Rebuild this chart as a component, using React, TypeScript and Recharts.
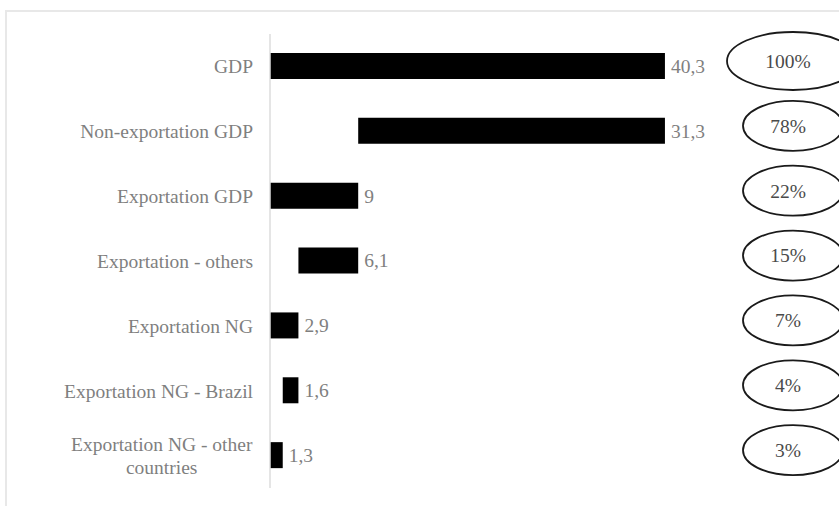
import { BarChart, Bar, XAxis, YAxis, LabelList } from 'recharts'

const categories = [
  'GDP',
  'Non-exportation GDP',
  'Exportation GDP',
  'Exportation - others',
  'Exportation NG',
  'Exportation NG - Brazil',
  'Exportation NG - other countries',
]
// where each bar starts (waterfall offset) and its length
const offsets = [0, 9, 0, 2.9, 0, 1.3, 0]
const amounts = [40.3, 31.3, 9, 6.1, 2.9, 1.6, 1.3]
const shares = ['100%', '78%', '22%', '15%', '7%', '4%', '3%']

const data = categories.map((name, i) => ({
  name,
  base: offsets[i],
  value: amounts[i],
  share: shares[i],
}))

const FONT = '"Liberation Serif", "Times New Roman", serif'
const W = 839
const H = 506

function wrap(label: string, max = 23): string[] {
  const lines: string[] = []
  let cur = ''
  for (const w of label.split(' ')) {
    const next = cur ? cur + ' ' + w : w
    if (next.length > max && cur) {
      lines.push(cur)
      cur = w
    } else {
      cur = next
    }
  }
  if (cur) lines.push(cur)
  return lines
}

function CategoryTick(props: any) {
  const { x, y, payload } = props
  const lines = wrap(String(payload.value))
  const lh = 23
  const top = y - ((lines.length - 1) * lh) / 2
  const right = x - 9
  // multi-line labels are centred as a block that ends at the same right edge
  const longest = Math.max(...lines.map((l) => l.length))
  const multi = lines.length > 1
  return (
    <g>
      {lines.map((ln, i) => (
        <text
          key={i}
          x={multi ? right - (longest * 8.3) / 2 : right}
          y={top + i * lh}
          dy="0.35em"
          textAnchor={multi ? 'middle' : 'end'}
          fill="#7f7f7f"
          fontSize={19.5}
          fontFamily={FONT}
        >
          {ln}
        </text>
      ))}
    </g>
  )
}

// percentage bubbles in a column at the right, one per row
function ShareBubble(props: any) {
  const { y, height, index } = props
  const cy = y + height / 2 - 5
  const cx = 793
  const first = index === 0
  return (
    <g>
      <ellipse
        cx={cx}
        cy={cy}
        rx={first ? 66 : 50}
        ry={first ? 29 : 25}
        fill="#fff"
        stroke="#1a1a1a"
        strokeWidth={1.8}
      />
      <text
        x={cx - 5}
        y={cy}
        dy="0.35em"
        textAnchor="middle"
        fill="#4a4a4a"
        fontSize={19.5}
        fontFamily={FONT}
      >
        {shares[index]}
      </text>
    </g>
  )
}

export default function App() {
  return (
    <div style={{ position: 'absolute', left: 0, top: 0, width: W, height: H, background: '#fff' }}>
      <div
        style={{
          position: 'absolute',
          left: 5,
          top: 10,
          right: 0,
          bottom: 0,
          borderTop: '2px solid #e8e8e8',
          borderLeft: '2px solid #e8e8e8',
        }}
      />
      <div style={{ position: 'absolute', left: 0, top: 0 }}>
        <BarChart
          width={W}
          height={H}
          data={data}
          layout="vertical"
          margin={{ top: 34, right: 30, bottom: 18, left: 0 }}
          barSize={26}
        >
          <XAxis type="number" domain={[0, 55]} hide />
          <YAxis
            type="category"
            dataKey="name"
            width={270}
            axisLine={{ stroke: '#dcdcdc', strokeWidth: 1.5 }}
            tickLine={false}
            tick={<CategoryTick />}
            interval={0}
          />
          <Bar dataKey="base" stackId="w" fill="transparent" isAnimationActive={false} />
          <Bar dataKey="value" stackId="w" fill="#000" isAnimationActive={false}>
            <LabelList
              dataKey="value"
              position="right"
              offset={6}
              formatter={(v: any) => String(v).replace('.', ',')}
              fill="#7f7f7f"
              fontSize={19.5}
              fontFamily={FONT}
            />
            <LabelList dataKey="share" content={<ShareBubble />} />
          </Bar>
        </BarChart>
      </div>
    </div>
  )
}
